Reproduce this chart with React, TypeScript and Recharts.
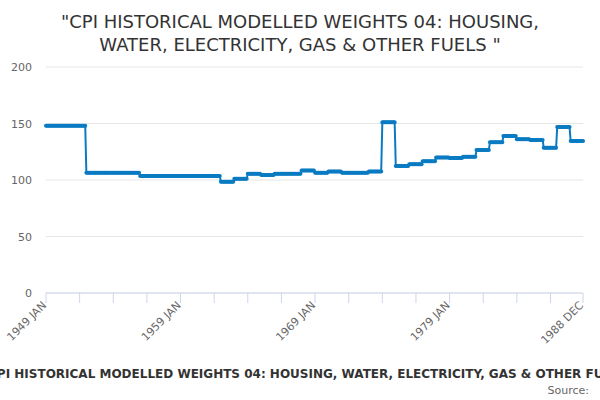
import React from "react";
import { LineChart, Line, XAxis, YAxis, CartesianGrid } from "recharts";

// Calendar years covered by the monthly series (one value per year, held for all 12 months)
const years = [
  1949, 1950, 1951, 1952, 1953, 1954, 1955, 1956, 1957, 1958,
  1959, 1960, 1961, 1962, 1963, 1964, 1965, 1966, 1967, 1968,
  1969, 1970, 1971, 1972, 1973, 1974, 1975, 1976, 1977, 1978,
  1979, 1980, 1981, 1982, 1983, 1984, 1985, 1986, 1987, 1988,
];
const yearValues = [
  148, 148, 148, 106.5, 106.5, 106.5, 106.5, 103.5, 103.5, 103.5,
  103.5, 103.5, 103.5, 98.5, 101, 105.5, 104.5, 105.5, 105.5, 108.5,
  106.5, 107.5, 106.5, 106.5, 107.5, 151, 112.5, 114, 116.5, 120,
  119.5, 120.5, 126.5, 133.5, 139, 136, 135.5, 128.5, 147, 134.5,
];
const months = ["JAN", "FEB", "MAR", "APR", "MAY", "JUN", "JUL", "AUG", "SEP", "OCT", "NOV", "DEC"];
const labeledTicks = ["1949 JAN", "1959 JAN", "1969 JAN", "1979 JAN", "1988 DEC"];
const yTicks = [0, 50, 100, 150, 200];

const data: { i: number; label: string; value: number }[] = [];
years.forEach((y, yi) => {
  months.forEach((m) => {
    data.push({ i: data.length, label: `${y} ${m}`, value: yearValues[yi] });
  });
});

const lastIndex = data.length - 1;
const minorTicks: number[] = [];
for (let k = 0; k < lastIndex; k += 30) minorTicks.push(k);
minorTicks.push(lastIndex);

const labelAt = (i: number) => {
  const lbl = data[i] ? data[i].label : "";
  return labeledTicks.includes(lbl) ? lbl : "";
};

const FONT = "'DejaVu Sans', sans-serif";
const COLOR = "#0a7bc2";

const XTick = (props: any) => {
  const { x, y, payload } = props;
  const text = labelAt(payload.value);
  if (!text) return null;
  const ax = x + 1;
  const ay = y + 1;
  return (
    <text
      x={ax}
      y={ay}
      transform={`rotate(-45, ${ax}, ${ay})`}
      textAnchor="end"
      fill="#666666"
      fontSize={11}
      fontFamily={FONT}
    >
      {text}
    </text>
  );
};

const YTick = (props: any) => {
  const { x, y, payload } = props;
  return (
    <text x={x} y={y} dy={4} textAnchor="end" fill="#666666" fontSize={11} fontFamily={FONT}>
      {payload.value}
    </text>
  );
};

export default function App() {
  return (
    <div style={{ position: "fixed", left: 0, top: 0, width: 600, height: 400, background: "#fff" }}>
      <LineChart
        width={600}
        height={400}
        data={data}
        margin={{ top: 67, right: 17, bottom: 47, left: 0 }}
      >
        <CartesianGrid horizontal={true} vertical={false} stroke="#e6e6e6" />
        <XAxis
          dataKey="i"
          type="number"
          domain={[0, lastIndex]}
          ticks={minorTicks}
          interval={0}
          height={60}
          stroke="#ccd6eb"
          tickLine={{ stroke: "#ccd6eb" }}
          tickSize={10}
          tickMargin={2}
          tick={<XTick />}
        />
        <YAxis
          domain={[0, 200]}
          ticks={yTicks}
          width={46}
          axisLine={false}
          tickLine={false}
          tickMargin={8}
          tick={<YTick />}
        />
        <Line
          type="linear"
          dataKey="value"
          stroke={COLOR}
          strokeWidth={2}
          dot={{ r: 2, fill: COLOR, stroke: "none" }}
          activeDot={false}
          isAnimationActive={false}
        />
      </LineChart>
      <svg
        width={600}
        height={400}
        style={{ position: "absolute", left: 0, top: 0, pointerEvents: "none" }}
      >
        <text x={300} y={28} textAnchor="middle" fill="#333333" fontSize={18} fontFamily={FONT}>
          "CPI HISTORICAL MODELLED WEIGHTS 04: HOUSING,
        </text>
        <text x={300} y={51} textAnchor="middle" fill="#333333" fontSize={18} fontFamily={FONT}>
          WATER, ELECTRICITY, GAS &amp; OTHER FUELS "
        </text>
        <text
          x={308}
          y={378}
          textAnchor="middle"
          fill="#333333"
          fontSize={12}
          fontWeight="bold"
          fontFamily={FONT}
        >
          CPI HISTORICAL MODELLED WEIGHTS 04: HOUSING, WATER, ELECTRICITY, GAS &amp; OTHER FUELS
        </text>
        <text x={589} y={394} textAnchor="end" fill="#666666" fontSize={11} fontFamily={FONT}>
          Source:
        </text>
      </svg>
    </div>
  );
}
